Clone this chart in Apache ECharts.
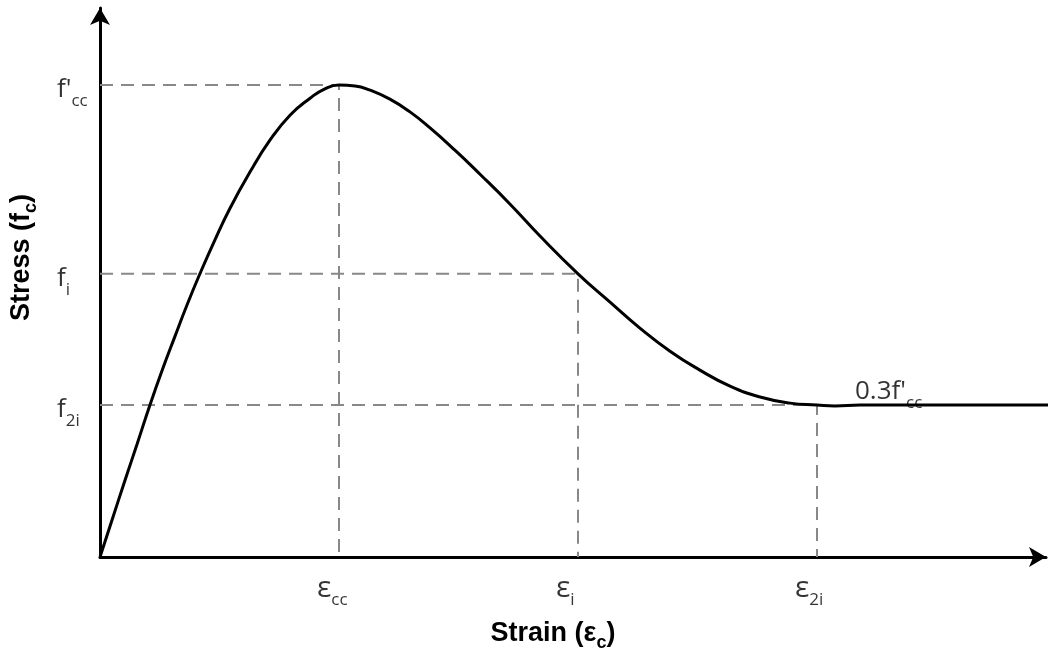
<!DOCTYPE html>
<html><head><meta charset="utf-8">
<script src="https://cdn.jsdelivr.net/npm/echarts@6/dist/echarts.min.js"></script>
<style>html,body{margin:0;padding:0;background:#fff}#c{width:1048px;height:648px}</style>
</head><body><div id="c"></div>
<script>
// Stress-strain curve (strain normalised by eps_cc, stress normalised by f'cc)
const curveStrain = [0, 0.050, 0.105, 0.155, 0.209, 0.259, 0.314, 0.364, 0.418, 0.481, 0.544, 0.628, 0.711, 0.795, 0.879, 0.941, 1.0, 1.067, 1.13, 1.213, 1.297, 1.381, 1.485, 1.59, 1.715, 1.841, 2.0, 2.134, 2.259, 2.385, 2.51, 2.636, 2.762, 2.887, 3.0, 3.075, 3.18, 3.967];
const curveStress = [0, 0.078, 0.163, 0.239, 0.322, 0.394, 0.468, 0.534, 0.600, 0.672, 0.739, 0.816, 0.883, 0.936, 0.972, 0.992, 1.0, 0.998, 0.989, 0.970, 0.943, 0.909, 0.862, 0.811, 0.748, 0.680, 0.600, 0.540, 0.485, 0.436, 0.396, 0.362, 0.339, 0.326, 0.322, 0.320, 0.322, 0.322];
// Reference points
const markStrain = [1, 2, 3];
const markStress = [1, 0.6, 0.322];
// Tick labels: [main, subscript]
const stressLabels = [["f'", "cc"], ["f", "i"], ["f", "2i"]];
const strainLabels = [["ε", "cc"], ["ε", "i"], ["ε", "2i"]];
const plateauLabel = ["0.3f'", "cc"];
const xTitle = ["Strain (", "ε", "c", ")"];
const yTitle = ["Stress (f", "c", ")"];

const FONT = "'Open Sans', sans-serif";
const BOLD = "'Liberation Sans', Arial, sans-serif";
const rich = {
  m: {fontFamily: FONT, fontSize: 26, color: '#000', verticalAlign: 'bottom', padding: [0, 0, 7, 0]},
  e: {fontFamily: FONT, fontSize: 30, color: '#000', verticalAlign: 'bottom', padding: [0, 0, 6, 0]},
  s: {fontFamily: FONT, fontSize: 17, color: '#000', verticalAlign: 'bottom'}
};
const titleRich = {
  b: {fontFamily: BOLD, fontSize: 27, fontWeight: 'bold', color: '#000', verticalAlign: 'bottom', padding: [0, 0, 5, 0]},
  s: {fontFamily: BOLD, fontSize: 18, fontWeight: 'bold', color: '#000', verticalAlign: 'bottom'}
};
const labelBase = {show: true, color: '#000', textBorderWidth: 0, textShadowBlur: 0, position: 'inside', rich};

const curve = curveStrain.map((x, i) => [x, curveStress[i]]);
const guides = markStrain.map((e, i) => ({
  type: 'line', silent: true, symbol: 'none', z: 1, animation: false,
  data: [[0, markStress[i]], [e, markStress[i]], [e, 0]],
  lineStyle: {color: '#888', width: 2, type: [13, 8]}
}));

const chart = echarts.init(document.getElementById('c'), null, {renderer: 'canvas'});
chart.setOption({
  animation: false,
  backgroundColor: '#fff',
  grid: {left: 100, right: 2, top: 8, bottom: 91, containLabel: false, outerBoundsMode: 'none'},
  xAxis: {
    type: 'value', min: 0, max: 946 / 239,
    axisLine: {onZero: true, symbol: ['none', 'arrow'], symbolSize: [15, 17], lineStyle: {color: '#000', width: 3}},
    axisTick: {show: false}, axisLabel: {show: false}, splitLine: {show: false},
    name: `{b|${xTitle[0]}}{b|${xTitle[1]}}{s|${xTitle[2]}}{b|${xTitle[3]}}`,
    nameLocation: 'middle', nameGap: 63,
    nameTextStyle: {rich: titleRich, padding: [0, 40, 0, 0]}
  },
  yAxis: {
    type: 'value', min: 0, max: 549 / 472,
    axisLine: {onZero: true, symbol: ['none', 'arrow'], symbolSize: [15, 17], lineStyle: {color: '#000', width: 3}},
    axisTick: {show: false}, axisLabel: {show: false}, splitLine: {show: false},
    name: `{b|${yTitle[0]}}{s|${yTitle[1]}}{b|${yTitle[2]}}`,
    nameLocation: 'middle', nameGap: 60,
    nameTextStyle: {rich: titleRich, padding: [0, 0, 0, 50]}
  },
  series: [
    ...guides,
    {
      type: 'line', data: curve, smooth: 0.5, symbol: 'none', clip: false, z: 3,
      lineStyle: {color: '#000', width: 3}
    },
    {
      type: 'scatter', symbolSize: 0, silent: true, z: 4,
      data: markStress.map(s => [0, s]),
      label: Object.assign({}, labelBase, {
        align: 'left', verticalAlign: 'top', offset: [-43, -8],
        formatter: p => `{m|${stressLabels[p.dataIndex][0]}}{s|${stressLabels[p.dataIndex][1]}}`
      })
    },
    {
      type: 'scatter', symbolSize: 0, silent: true, z: 4,
      data: markStrain.map(e => [e, 0]),
      label: Object.assign({}, labelBase, {
        align: 'left', verticalAlign: 'top', offset: [-22, 16],
        formatter: p => `{e|${strainLabels[p.dataIndex][0]}}{s|${strainLabels[p.dataIndex][1]}}`
      })
    },
    {
      type: 'scatter', symbolSize: 0, silent: true, z: 2,
      data: [[markStrain[2], markStress[2]]],
      label: Object.assign({}, labelBase, {
        align: 'left', verticalAlign: 'bottom', offset: [38, 7],
        formatter: () => `{m|${plateauLabel[0]}}{s|${plateauLabel[1]}}`
      })
    }
  ]
});
</script></body></html>
